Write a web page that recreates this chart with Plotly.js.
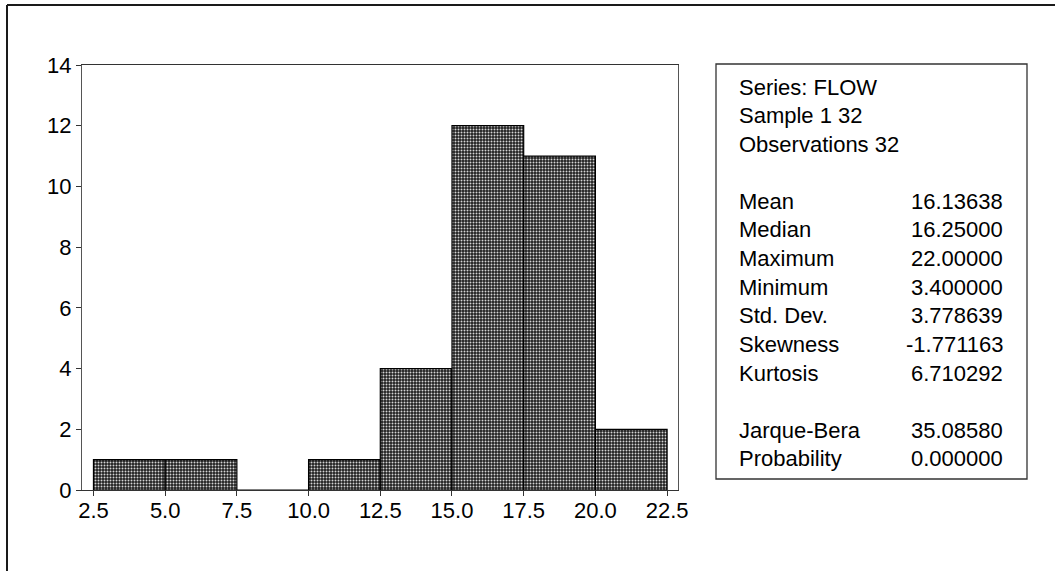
<!DOCTYPE html>
<html>
<head>
<meta charset="utf-8">
<script src="https://cdn.plot.ly/plotly-3.0.1.min.js"></script>
<style>
  html, body { margin: 0; padding: 0; background: #fff; }
  #chart { width: 1055px; height: 571px; }
</style>
</head>
<body>
<div id="chart"></div>
<script>
// ---- data ----
const binStart = [2.5, 5.0, 7.5, 10.0, 12.5, 15.0, 17.5, 20.0];
const counts   = [1, 1, 0, 1, 4, 12, 11, 2];
const binWidth = 2.5;
const xTickVals = [2.5, 5.0, 7.5, 10.0, 12.5, 15.0, 17.5, 20.0, 22.5];
const xTickText = ["2.5", "5.0", "7.5", "10.0", "12.5", "15.0", "17.5", "20.0", "22.5"];
const yTickVals = [0, 2, 4, 6, 8, 10, 12, 14];
const headerLines = ["Series: FLOW", "Sample 1 32", "Observations 32"];
const statLabels  = ["Mean", "Median", "Maximum", "Minimum", "Std. Dev.", "Skewness", "Kurtosis"];
const statValues  = ["16.13638", "16.25000", "22.00000", "3.400000", "3.778639", "-1.771163", "6.710292"];
const testLabels  = ["Jarque-Bera", "Probability"];
const testValues  = ["35.08580", "0.000000"];

// ---- layout geometry (pixels) ----
const W = 1055, H = 571;
const plotL = 82, plotR = 678, plotT = 65, plotB = 490;
const pw = plotR - plotL, ph = plotB - plotT;
const px = x => (x - plotL) / pw;
const py = y => (plotB - y) / ph;

const FONT = '"Liberation Sans", Arial, sans-serif';
const fs = 22;
const txtColor = '#000';

const trace = {
  type: 'bar',
  x: binStart,
  y: counts,
  width: binWidth,
  offset: 0,
  marker: {
    color: '#1e1e1e',
    line: { color: '#000', width: 1.2 },
    pattern: { shape: '.', fgcolor: '#d4d4d4', bgcolor: '#1e1e1e', size: 3, solidity: 0.34, fillmode: 'replace' }
  },
  hoverinfo: 'skip'
};

const shapes = [
  // outer frame (left & top edges)
  { type: 'line', xref: 'paper', yref: 'paper', x0: px(7), x1: px(7), y0: py(5), y1: py(H + 5), line: { color: '#1a1a1a', width: 2 } },
  { type: 'line', xref: 'paper', yref: 'paper', x0: px(7), x1: px(W + 5), y0: py(5), y1: py(5), line: { color: '#1a1a1a', width: 2 } },
  // statistics box
  { type: 'rect', xref: 'paper', yref: 'paper', x0: px(716), x1: px(1027), y0: py(64), y1: py(479), line: { color: '#333', width: 1.3 }, fillcolor: 'rgba(0,0,0,0)' }
];

const annotations = [];
const labX = 737, valX = 1005, lineY0 = 87, step = 28.6;
function addLine(row, label, value) {
  const yv = py(lineY0 + row * step);
  annotations.push({ xref: 'paper', yref: 'paper', x: px(labX), y: yv, xanchor: 'left', yanchor: 'middle',
    text: label, showarrow: false, font: { family: FONT, size: fs, color: txtColor } });
  if (value !== undefined) {
    annotations.push({ xref: 'paper', yref: 'paper', x: px(valX), y: yv, xanchor: 'right', yanchor: 'middle',
      text: value, showarrow: false, font: { family: FONT, size: fs, color: txtColor } });
  }
}
headerLines.forEach((t, i) => addLine(i, t));
statLabels.forEach((t, i) => addLine(4 + i, t, statValues[i]));
testLabels.forEach((t, i) => addLine(12 + i, t, testValues[i]));

const layout = {
  width: W, height: H,
  margin: { l: plotL, r: W - plotR, t: plotT, b: H - plotB, pad: 0 },
  paper_bgcolor: '#fff', plot_bgcolor: '#fff',
  showlegend: false,
  font: { family: FONT, size: fs, color: txtColor },
  bargap: 0,
  xaxis: {
    range: [2.1, 22.88], tickmode: 'array', tickvals: xTickVals, ticktext: xTickText,
    ticks: 'outside', ticklen: 5, tickwidth: 1, tickcolor: '#333',
    showline: true, linecolor: '#333', linewidth: 1.3, mirror: true,
    showgrid: false, zeroline: false, ticklabelstandoff: -5,
    tickfont: { family: FONT, size: fs, color: txtColor }
  },
  yaxis: {
    range: [0, 14], tickmode: 'array', tickvals: yTickVals,
    ticks: 'outside', ticklen: 5, tickwidth: 1, tickcolor: '#333',
    showline: true, linecolor: '#555', linewidth: 1, mirror: true,
    showgrid: false, zeroline: false,
    tickfont: { family: FONT, size: fs, color: txtColor }
  },
  shapes: shapes,
  annotations: annotations
};

Plotly.newPlot('chart', [trace], layout, { staticPlot: true, displayModeBar: false });
</script>
</body>
</html>
